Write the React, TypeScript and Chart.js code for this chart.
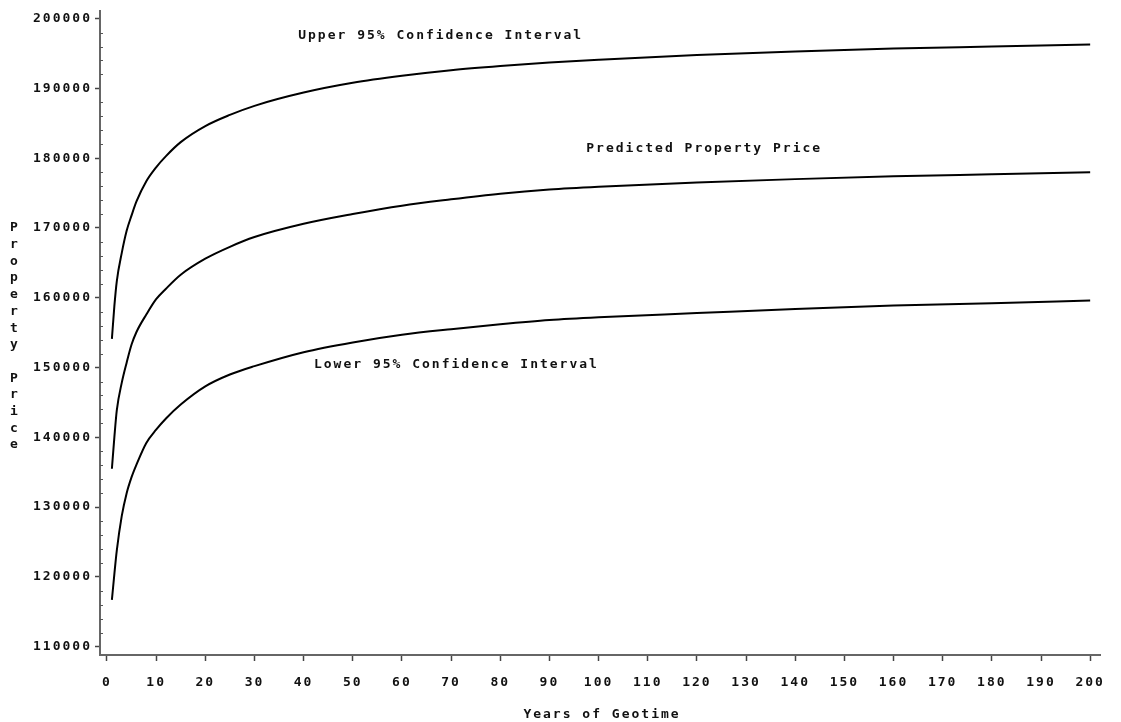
import { useEffect, useRef } from "react";
import { Chart, registerables } from "chart.js";

Chart.register(...registerables);

// Years since the start of the geologic record (x) and property prices (y)
const years = [1, 1.5, 2, 3, 4, 5, 6, 8, 10, 12, 15, 20, 25, 30, 40, 50, 60, 70, 80, 90, 100, 120, 140, 160, 180, 200];
const upperCI = [154100, 158800, 162400, 166400, 169600, 171800, 173800, 176700, 178700, 180300, 182300, 184600, 186200, 187500, 189400, 190800, 191800, 192600, 193200, 193700, 194100, 194800, 195300, 195700, 196000, 196300];
const predicted = [135500, 140000, 143900, 147800, 150700, 153300, 155100, 157600, 159800, 161300, 163300, 165600, 167300, 168700, 170600, 172000, 173200, 174100, 174900, 175500, 175900, 176500, 177000, 177400, 177700, 178000];
const lowerCI = [116700, 120400, 123800, 128700, 132000, 134300, 136100, 139200, 141100, 142700, 144700, 147300, 149000, 150200, 152200, 153600, 154700, 155500, 156200, 156800, 157200, 157800, 158400, 158900, 159200, 159600];

const seriesNames = ["Upper 95% Confidence Interval", "Predicted Property Price", "Lower 95% Confidence Interval"];
const xTicks = [0, 10, 20, 30, 40, 50, 60, 70, 80, 90, 100, 110, 120, 130, 140, 150, 160, 170, 180, 190, 200];
const yTicks = [110000, 120000, 130000, 140000, 150000, 160000, 170000, 180000, 190000, 200000];
const xTitle = "Years of Geotime";
const yTitle = "Property Price";

const FONT = "'DejaVu Sans Mono', monospace";

// Where each curve's caption starts, in data units
const captionAnchors = [
  { x: 38.9, y: 197540 },
  { x: 97.5, y: 181370 },
  { x: 42.1, y: 150460 },
];

const textPlugin = {
  id: "sasText",
  beforeDraw(chart: any) {
    chart.ctx.letterSpacing = "2px";
  },
  afterDraw(chart: any) {
    const ctx = chart.ctx;
    const xs = chart.scales.x;
    const ys = chart.scales.y;
    ctx.save();
    ctx.letterSpacing = "2px";
    ctx.fillStyle = "#111";
    ctx.font = `bold 13px ${FONT}`;
    ctx.textBaseline = "middle";

    // minor ticks on the value axis
    ctx.strokeStyle = "#555";
    ctx.lineWidth = 1;
    for (let v = 112000; v < 201000; v += 2000) {
      if (v % 10000 === 0) continue;
      const py = Math.round(ys.getPixelForValue(v)) + 0.5;
      ctx.beginPath();
      ctx.moveTo(chart.chartArea.left, py);
      ctx.lineTo(chart.chartArea.left + 3, py);
      ctx.stroke();
    }

    // curve captions
    ctx.textAlign = "left";
    seriesNames.forEach((name, i) => {
      const a = captionAnchors[i];
      ctx.fillText(name, xs.getPixelForValue(a.x), ys.getPixelForValue(a.y));
    });

    // x axis title
    ctx.textAlign = "center";
    ctx.fillText(xTitle, (chart.chartArea.left + chart.chartArea.right) / 2 + 2, 715);

    // y axis title, one letter per line
    const letters = yTitle.split("");
    letters.forEach((ch, i) => {
      if (ch === " ") return;
      ctx.fillText(ch, 15, 228 + i * 16.7);
    });
    ctx.restore();
  },
};

export default function App() {
  const ref = useRef<HTMLCanvasElement | null>(null);

  useEffect(() => {
    if (!ref.current) return;
    const mk = (vals: number[]) => years.map((x, i) => ({ x, y: vals[i] }));
    const line = {
      borderColor: "#000",
      borderWidth: 2,
      pointRadius: 0,
      cubicInterpolationMode: "monotone" as const,
      fill: false,
    };
    const chart = new Chart(ref.current, {
      type: "line",
      data: {
        datasets: [
          { label: seriesNames[0], data: mk(upperCI), ...line },
          { label: seriesNames[1], data: mk(predicted), ...line },
          { label: seriesNames[2], data: mk(lowerCI), ...line },
        ],
      },
      options: {
        responsive: false,
        animation: false,
        devicePixelRatio: 1,
        layout: { padding: { left: 0, right: 21, top: 10, bottom: 0 } },
        plugins: {
          legend: { display: false },
          tooltip: { enabled: false },
          title: { display: false },
        },
        scales: {
          x: {
            type: "linear",
            min: -1.42,
            max: 202,
            afterBuildTicks: (s: any) => {
              s.ticks = xTicks.map((v) => ({ value: v }));
            },
            afterFit: (s: any) => {
              s.height = 67;
            },
            border: { display: true, color: "#666", width: 2 },
            grid: {
              display: true,
              drawOnChartArea: false,
              drawTicks: true,
              tickLength: 6,
              tickColor: "#444",
              tickWidth: 1.5,
            },
            ticks: {
              autoSkip: false,
              maxRotation: 0,
              padding: 14,
              color: "#111",
              font: { family: FONT, size: 13, weight: "bold" },
              callback: (v: any) => String(v),
            },
          },
          y: {
            type: "linear",
            min: 108810,
            max: 201120,
            afterBuildTicks: (s: any) => {
              s.ticks = yTicks.map((v) => ({ value: v }));
            },
            afterFit: (s: any) => {
              s.width = 100;
            },
            border: { display: true, color: "#666", width: 2 },
            grid: {
              display: true,
              drawOnChartArea: false,
              drawTicks: true,
              tickLength: 5,
              tickColor: "#444",
              tickWidth: 1.5,
            },
            ticks: {
              autoSkip: false,
              padding: 3,
              color: "#111",
              font: { family: FONT, size: 13, weight: "bold" },
              callback: (v: any) => String(v),
            },
          },
        },
      },
      plugins: [textPlugin],
    });
    return () => chart.destroy();
  }, []);

  return (
    <div style={{ position: "absolute", left: 0, top: 0, width: 1121, height: 722, background: "#fff" }}>
      <canvas ref={ref} width={1121} height={722} style={{ display: "block" }} />
    </div>
  );
}
